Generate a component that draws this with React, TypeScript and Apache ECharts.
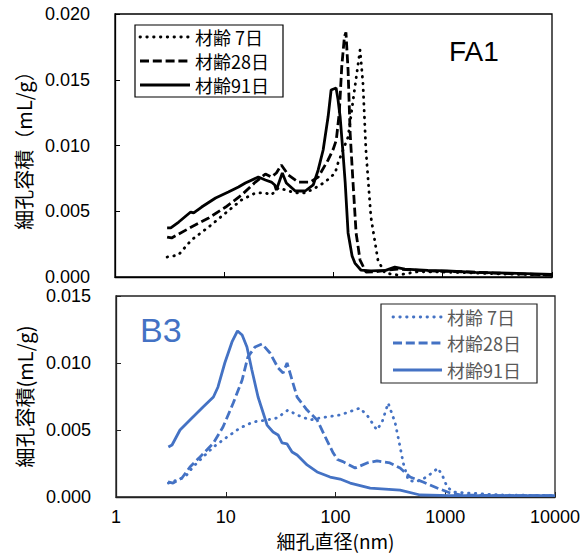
import React, { useEffect, useRef } from "react";
import * as echarts from "echarts";

// ---- data ----
const xTicks = [1, 10, 100, 1000, 10000];
const ageNames = ["材齢 7日", "材齢28日", "材齢91日"];
const panelLabels = ["FA1", "B3"];
const yMaxFA1 = 0.02;
const yMaxB3 = 0.015;
const yInterval = 0.005;

// FA1 pore volume [diameter nm, mL/g]
const fa1Age7 = [
  [3.0, 0.00152], [3.8, 0.00167], [5.0, 0.00281], [7.2, 0.0038], [10.3, 0.00487],
  [14.4, 0.00586], [19.3, 0.00639], [23.8, 0.00639], [27.0, 0.00624], [31.3, 0.00677],
  [36.2, 0.00662], [44.7, 0.00639], [55.1, 0.00639], [68.0, 0.00677], [83.8, 0.00722],
  [103.5, 0.00791], [110, 0.00867], [136, 0.01065], [157, 0.01445], [175, 0.01726],
  [186, 0.01475], [198, 0.00966], [220, 0.00456], [255, 0.00129], [295, 0.0003],
  [390, 0.00015], [590, 0.0004], [1000, 0.00038], [2000, 0.0003], [4000, 0.00022],
  [10000, 0.00015],
];
const fa1Age28 = [
  [3.0, 0.00304], [3.3, 0.00297], [5.0, 0.0038], [7.2, 0.00449], [10.3, 0.00532],
  [14.4, 0.00623], [19.3, 0.00722], [23.8, 0.00783], [27.0, 0.0076], [30.0, 0.00791],
  [33.3, 0.00852], [38.6, 0.00776], [47.6, 0.00722], [61.2, 0.00722], [72.4, 0.0076],
  [89.3, 0.0089], [99.2, 0.0097], [106, 0.0104], [113, 0.0125], [119, 0.016],
  [126, 0.0183], [130, 0.0186], [136, 0.0157], [142, 0.01095], [151, 0.00715],
  [161, 0.00335], [175, 0.00129], [198, 0.00038], [240, 0.0004], [315, 0.00053],
  [388, 0.0006], [730, 0.00046], [1500, 0.0004], [3000, 0.0003], [10000, 0.00015],
];
const fa1Age91 = [
  [3.0, 0.00373], [3.24, 0.00373], [3.83, 0.00418], [4.93, 0.00494], [5.25, 0.00487],
  [6.21, 0.00532], [8.33, 0.00601], [10.9, 0.00646], [13.5, 0.00684], [15.6, 0.00715],
  [20.5, 0.0076], [23.8, 0.00738], [27.0, 0.00722], [29.0, 0.007], [30.0, 0.00662],
  [34.0, 0.00791], [37.0, 0.00715], [44.7, 0.00654], [55.1, 0.00654], [65.2, 0.007],
  [72.4, 0.00814], [80.4, 0.00966], [89.3, 0.0122], [95.1, 0.01422], [105.6, 0.01437],
  [110, 0.0135], [115, 0.01217], [122, 0.0095], [128, 0.00715], [136, 0.00335],
  [148, 0.0016], [157, 0.00106], [178, 0.00053], [220, 0.00046], [300, 0.0005],
  [364, 0.00076], [450, 0.0006], [730, 0.0005], [1100, 0.00046], [2000, 0.00035],
  [4000, 0.0003], [10000, 0.0002],
];

// B3 pore volume [diameter nm, mL/g]
const b3Age7 = [
  [3.0, 0.00104], [3.6, 0.00127], [4.26, 0.00149], [5.03, 0.00224], [6.21, 0.00299],
  [7.72, 0.00373], [10.3, 0.00448], [13.5, 0.00515], [17.7, 0.0056], [23.8, 0.00575],
  [29.4, 0.0059], [36.9, 0.00649], [44.7, 0.00612], [58.8, 0.00575], [72.4, 0.0059],
  [110, 0.00612], [167, 0.00664], [198, 0.006], [238, 0.005], [266, 0.0056],
  [302, 0.00701], [350, 0.00552], [388, 0.00373], [414, 0.00254], [460, 0.00127],
  [532, 0.00112], [628, 0.00134], [757, 0.00179], [858, 0.00216], [955, 0.00149],
  [1039, 0.00075], [1185, 0.00037], [1590, 0.0003], [3160, 0.00015], [10000, 0.0001],
];
const b3Age28 = [
  [2.98, 0.00112], [3.31, 0.00104], [3.99, 0.00142], [4.72, 0.00224], [5.83, 0.00299],
  [7.72, 0.00403], [9.44, 0.00522], [11.7, 0.00701], [14.1, 0.00873], [15.9, 0.01045],
  [18.5, 0.0112], [21.4, 0.01142], [25.3, 0.01075], [30.0, 0.00963], [33.3, 0.00925],
  [36.2, 0.01], [40.2, 0.00873], [44.7, 0.00746], [55.1, 0.00649], [68.0, 0.00575],
  [83.8, 0.0042], [95.1, 0.0033], [104, 0.0028], [117, 0.00264], [151, 0.00216],
  [194, 0.00254], [239, 0.00269], [313, 0.00254], [388, 0.00216], [479, 0.00149],
  [628, 0.00112], [844, 0.00067], [1110, 0.0003], [1370, 0.00015], [3000, 0.0001],
  [10000, 0.0001],
];
const b3Age91 = [
  [3.0, 0.00373], [3.24, 0.00388], [3.83, 0.005], [4.72, 0.00575], [6.21, 0.00672],
  [7.72, 0.00746], [8.5, 0.00821], [9.8, 0.01], [11.4, 0.01157], [12.8, 0.01239],
  [14.1, 0.01209], [15.6, 0.0112], [17.3, 0.00948], [19.7, 0.00746], [23.8, 0.00537],
  [27.0, 0.00485], [30.0, 0.00463], [32.6, 0.00403], [36.2, 0.00396], [40.2, 0.00336],
  [44.7, 0.00313], [55.1, 0.00239], [68.0, 0.00187], [89.3, 0.00149], [110, 0.00134],
  [136, 0.00104], [207, 0.00067], [388, 0.00052], [591, 0.00015], [1110, 0.0001],
  [10000, 0.0001],
];

// ---- styles ----
const BLACK = "#000000";
const BLUE = "#4472C4";
const NUM_FONT = "'Liberation Sans', Arial, sans-serif";
const JP_FONT = "'Noto Sans CJK JP', 'Noto Sans', sans-serif";
const dotType = [0.5, 6.3];
const dashType = [9, 3.8];
const LW = 2.8;

function lineStyleFor(idx: number, color: string) {
  if (idx === 0) return { color, width: LW, type: dotType, cap: "round" as const };
  if (idx === 1) return { color, width: LW, type: dashType, cap: "butt" as const };
  return { color, width: LW, type: "solid" as const };
}

function legendGraphic(
  x: number, y: number, w: number, h: number,
  lineX1: number, lineX2: number, textX: number, rowYs: number[],
  color: string, textColor: string, borderColor: string
) {
  const children: any[] = [
    { type: "rect", shape: { x, y, width: w, height: h }, style: { fill: "#fff", stroke: borderColor, lineWidth: 1.2 } },
  ];
  ageNames.forEach((name, i) => {
    const ls = lineStyleFor(i, color);
    children.push({
      type: "line",
      shape: { x1: lineX1, y1: rowYs[i], x2: lineX2, y2: rowYs[i] },
      style: {
        stroke: color,
        lineWidth: LW,
        lineDash: i === 2 ? null : (ls.type as number[]),
        lineCap: i === 0 ? "round" : "butt",
      },
    });
    children.push({
      type: "text",
      x: textX,
      y: rowYs[i],
      style: {
        text: name, fill: textColor, fontSize: 18, lineHeight: 18,
        fontFamily: JP_FONT, verticalAlign: "middle", align: "left",
      },
    });
  });
  return { type: "group", children, z: 100 };
}

export default function App() {
  const ref = useRef<HTMLDivElement>(null);
  useEffect(() => {
    const chart = echarts.init(ref.current!, null, { renderer: "svg" });
    const xAxisBase = (gridIndex: number, color: string) => ({
      gridIndex,
      type: "log" as const,
      logBase: 10,
      min: xTicks[0],
      max: xTicks[xTicks.length - 1],
      axisLine: { show: true, lineStyle: { color, width: 1.3 } },
      axisTick: { show: true, inside: true, length: 5, lineStyle: { color, width: 1 } },
      minorTick: { show: false },
      splitLine: { show: false },
    });
    const yAxisBase = (gridIndex: number, max: number, name: string, color: string) => ({
      gridIndex,
      type: "value" as const,
      min: 0,
      max,
      interval: yInterval,
      axisLine: { show: true, lineStyle: { color, width: 1.3 } },
      axisTick: { show: true, inside: true, length: 5, lineStyle: { color, width: 1 } },
      splitLine: { show: false },
      axisLabel: {
        formatter: (v: number) => v.toFixed(3),
        fontSize: 18,
        color: "#000",
        fontFamily: NUM_FONT,
        margin: 25,
      },
      name,
      nameLocation: "middle" as const,
      nameGap: 80,
      nameRotate: 90,
      nameTextStyle: { fontSize: 20, lineHeight: 22, color: "#000", fontFamily: JP_FONT },
    });

    const makeSeries = (data: number[][], idx: number, color: string, axis: number) => ({
      type: "line" as const,
      name: ageNames[idx],
      xAxisIndex: axis,
      yAxisIndex: axis,
      data,
      showSymbol: false,
      symbol: "none",
      lineStyle: lineStyleFor(idx, color),
      emphasis: { disabled: true },
      z: 3 + idx,
    });

    chart.setOption({
      animation: false,
      backgroundColor: "#ffffff",
      grid: [
        { left: 115, top: 14, width: 437, height: 263, show: true, borderColor: BLACK, borderWidth: 1.3, backgroundColor: "transparent" },
        { left: 116, top: 296, width: 439, height: 201, show: true, borderColor: "#222", borderWidth: 1.3, backgroundColor: "transparent" },
      ],
      xAxis: [
        { ...xAxisBase(0, BLACK), axisLabel: { show: false } },
        {
          ...xAxisBase(1, "#222"),
          axisLabel: {
            show: true,
            fontSize: 18,
            lineHeight: 18,
            color: "#000",
            fontFamily: NUM_FONT,
            margin: 11,
            formatter: (v: number) => String(Math.round(v)),
          },
          name: "細孔直径(nm)",
          nameLocation: "middle",
          nameGap: 34,
          nameTextStyle: { fontSize: 19, lineHeight: 19, color: "#000", fontFamily: JP_FONT },
        },
      ],
      yAxis: [
        yAxisBase(0, yMaxFA1, "細孔容積（mL/g）", BLACK),
        yAxisBase(1, yMaxB3, "細孔容積(mL/g)", "#222"),
      ],
      series: [
        makeSeries(fa1Age7, 0, BLACK, 0),
        makeSeries(fa1Age28, 1, BLACK, 0),
        makeSeries(fa1Age91, 2, BLACK, 0),
        makeSeries(b3Age7, 0, BLUE, 1),
        makeSeries(b3Age28, 1, BLUE, 1),
        makeSeries(b3Age91, 2, BLUE, 1),
      ],
      graphic: [
        legendGraphic(135, 25, 148, 72, 140, 190, 195, [37, 61, 85], BLACK, "#000", BLACK),
        legendGraphic(381, 304, 156, 79, 393, 442, 447, [317, 343, 370], BLUE, "#595959", "#222"),
        {
          type: "text", x: 449, y: 51,
          style: { text: panelLabels[0], fill: "#000", fontSize: 28, fontFamily: NUM_FONT, verticalAlign: "middle" },
          z: 100,
        },
        {
          type: "text", x: 140, y: 330,
          style: { text: panelLabels[1], fill: BLUE, fontSize: 34, fontFamily: NUM_FONT, verticalAlign: "middle" },
          z: 100,
        },
      ],
    });
    return () => chart.dispose();
  }, []);
  return (
    <div
      ref={ref}
      style={{ position: "fixed", left: 0, top: 0, width: 584, height: 553, background: "#fff" }}
    />
  );
}
